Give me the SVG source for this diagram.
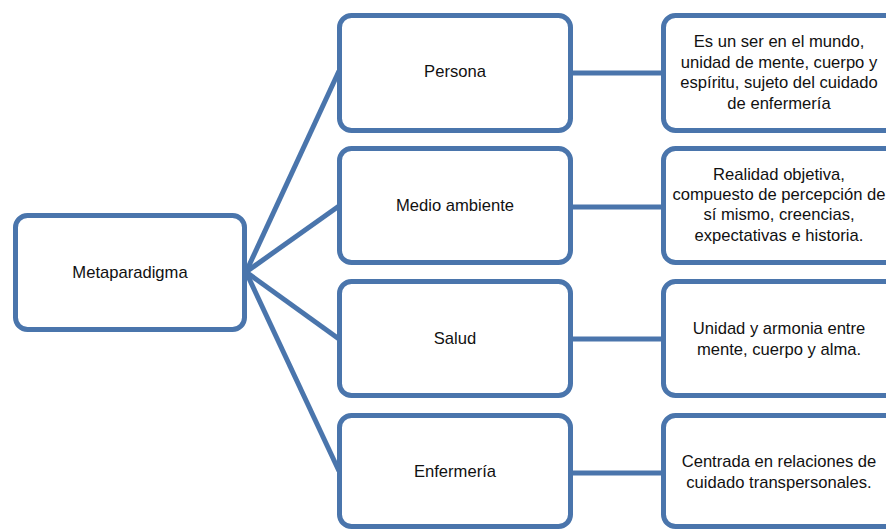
<svg xmlns="http://www.w3.org/2000/svg" width="886" height="529" viewBox="0 0 886 529">
<style>
.box{fill:#ffffff;stroke:#4A75AC;stroke-width:5}
.con{stroke:#4A75AC;stroke-width:5;fill:none}
text{font-family:"Liberation Sans",Arial,sans-serif;font-size:16.6px;fill:#111111;text-anchor:middle}
</style>
<rect width="886" height="529" fill="#ffffff"/>
<g id="connectors">
<line class="con" x1="246" y1="272" x2="339" y2="71"/>
<line class="con" x1="246" y1="272" x2="339" y2="206"/>
<line class="con" x1="246" y1="272" x2="339" y2="339"/>
<line class="con" x1="246" y1="272" x2="339" y2="471"/>
<line class="con" x1="571" y1="73" x2="663" y2="73"/>
<line class="con" x1="571" y1="207" x2="663" y2="207"/>
<line class="con" x1="571" y1="339" x2="663" y2="339"/>
<line class="con" x1="571" y1="473" x2="663" y2="473"/>
</g>
<g id="metaparadigma">
<rect class="box" x="15.5" y="215.5" width="229" height="114" rx="12"/>
<text x="130" y="278">Metaparadigma</text>
</g>
<g id="persona">
<rect class="box" x="339.5" y="15.5" width="231" height="115" rx="12"/>
<text x="455" y="77">Persona</text>
</g>
<g id="medio">
<rect class="box" x="339.5" y="148.5" width="231" height="114" rx="12"/>
<text x="455" y="211">Medio ambiente</text>
</g>
<g id="salud">
<rect class="box" x="339.5" y="281.5" width="231" height="114" rx="12"/>
<text x="455" y="344">Salud</text>
</g>
<g id="enfermeria">
<rect class="box" x="339.5" y="415.5" width="231" height="111" rx="12"/>
<text x="455" y="477">Enfermería</text>
</g>
<g id="persona-desc">
<rect class="box" x="663.5" y="15.5" width="233" height="115" rx="12"/>
<text x="779" y="47">Es un ser en el mundo,</text>
<text x="779" y="68">unidad de mente, cuerpo y</text>
<text x="779" y="88">espíritu, sujeto del cuidado</text>
<text x="779" y="109">de enfermería</text>
</g>
<g id="medio-desc">
<rect class="box" x="663.5" y="148.5" width="233" height="114" rx="12"/>
<text x="779" y="180">Realidad objetiva,</text>
<text x="779" y="200">compuesto de percepción de</text>
<text x="779" y="220">sí mismo, creencias,</text>
<text x="779" y="241">expectativas e historia.</text>
</g>
<g id="salud-desc">
<rect class="box" x="663.5" y="281.5" width="233" height="114" rx="12"/>
<text x="779" y="334">Unidad y armonia entre</text>
<text x="779" y="355">mente, cuerpo y alma.</text>
</g>
<g id="enfermeria-desc">
<rect class="box" x="663.5" y="415.5" width="233" height="111" rx="12"/>
<text x="779" y="467">Centrada en relaciones de</text>
<text x="779" y="488">cuidado transpersonales.</text>
</g>
</svg>
